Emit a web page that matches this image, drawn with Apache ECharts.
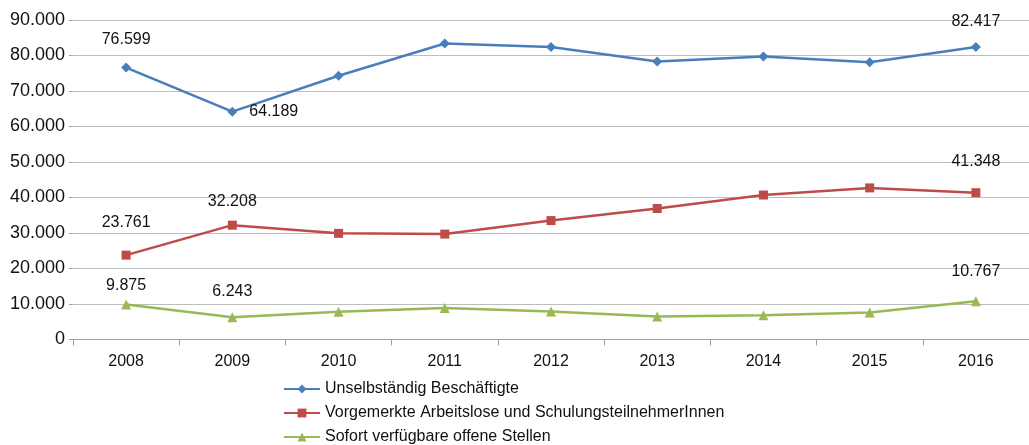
<!DOCTYPE html>
<html>
<head>
<meta charset="utf-8">
<script src="https://cdn.jsdelivr.net/npm/echarts@6/dist/echarts.min.js"></script>
<style>
  html, body { margin: 0; padding: 0; background: #fff; }
  #chart { width: 1029px; height: 445px; }
</style>
</head>
<body>
<div id="chart"></div>
<script>
const years = ['2008', '2009', '2010', '2011', '2012', '2013', '2014', '2015', '2016']

const beschaeftigte = [76599, 64189, 74300, 83400, 82400, 78300, 79700, 78100, 82417]
const arbeitslose = [23761, 32208, 29900, 29700, 33500, 36900, 40700, 42700, 41348]
const offeneStellen = [9875, 6243, 7800, 8900, 7900, 6500, 6800, 7600, 10767]

// which points carry a value label (index -> label position)
const labelsBlue = { 0: ['top', 15], 1: ['right', 12], 8: ['top', 12] }
const labelsRed = { 0: ['top', 20], 1: ['top', 11], 8: ['top', 19] }
const labelsGreen = { 0: ['top', 6], 1: ['top', 13], 8: ['top', 17] }

const fmt = (v) => String(Math.round(v)).replace(/\B(?=(\d{3})+(?!\d))/g, '.')

const withLabels = (values, labels) =>
  values.map((v, i) => {
    if (!labels[i]) return v
    return {
      value: v,
      label: {
        show: true,
        position: labels[i][0],
        distance: labels[i][1],
        formatter: (p) => fmt(p.value),
        fontSize: 16,
        color: '#111',
        fontFamily: 'Liberation Sans',
      },
    }
  })

const myChart = echarts.init(document.getElementById('chart'))

const option = {
  animation: false,
  textStyle: { fontFamily: 'Liberation Sans' },
  grid: { left: 73, top: 20, right: -7, bottom: 105.5, containLabel: false },
  legend: {
    orient: 'vertical',
    left: 278,
    top: 376,
    height: 120,
    itemWidth: 36,
    itemHeight: 11,
    itemGap: 8,
    textStyle: { fontSize: 16, color: '#111', fontFamily: 'Liberation Sans' },
    data: [
      'Unselbständig Beschäftigte',
      'Vorgemerkte Arbeitslose und SchulungsteilnehmerInnen',
      'Sofort verfügbare offene Stellen',
    ],
  },
  xAxis: {
    type: 'category',
    data: years,
    boundaryGap: true,
    axisLine: { lineStyle: { color: '#a0a0a0', width: 1 } },
    axisTick: { show: true, length: 6, lineStyle: { color: '#a0a0a0' } },
    axisLabel: { fontSize: 16, color: '#111', margin: 14 },
  },
  yAxis: {
    type: 'value',
    min: 0,
    max: 90000,
    interval: 10000,
    axisLine: { show: false },
    axisTick: { show: true, length: 4, lineStyle: { color: '#a0a0a0' } },
    splitLine: { lineStyle: { color: '#bdbdbd', width: 1 } },
    axisLabel: { fontSize: 18, color: '#111', margin: 8, formatter: fmt },
  },
  series: [
    {
      name: 'Unselbständig Beschäftigte',
      type: 'line',
      data: withLabels(beschaeftigte, labelsBlue),
      symbol: 'diamond',
      symbolSize: 10,
      lineStyle: { color: '#4a7ebb', width: 2.5 },
      itemStyle: { color: '#4a7ebb' },
    },
    {
      name: 'Vorgemerkte Arbeitslose und SchulungsteilnehmerInnen',
      type: 'line',
      data: withLabels(arbeitslose, labelsRed),
      symbol: 'rect',
      symbolSize: 9,
      lineStyle: { color: '#be4b48', width: 2.5 },
      itemStyle: { color: '#be4b48' },
    },
    {
      name: 'Sofort verfügbare offene Stellen',
      type: 'line',
      data: withLabels(offeneStellen, labelsGreen),
      symbol: 'triangle',
      symbolSize: 10,
      lineStyle: { color: '#98b954', width: 2.5 },
      itemStyle: { color: '#98b954' },
    },
  ],
}

myChart.setOption(option)
</script>
</body>
</html>
